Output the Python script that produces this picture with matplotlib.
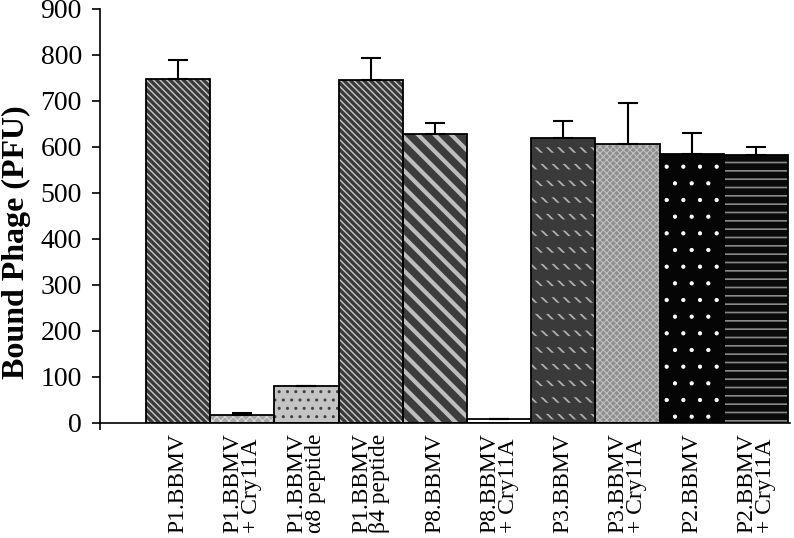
import matplotlib
matplotlib.use("Agg")
import matplotlib.pyplot as plt

# data
labels = ["P1.BBMV", "P1.BBMV\n+ Cry11A", "P1.BBMV\nα8 peptide", "P1.BBMV\nβ4 peptide",
          "P8.BBMV", "P8.BBMV\n+ Cry11A", "P3.BBMV", "P3.BBMV\n+ Cry11A",
          "P2.BBMV", "P2.BBMV\n+ Cry11A"]
values = [748, 17, 80, 746, 628, 8, 620, 607, 585, 583]
errors = [42, 5, 0, 47, 24, 0, 37, 89, 45, 17]

# fill style per bar: face colour, hatch, hatch colour, hatch linewidth
styles = [
    ("#3a3a3a", "\\\\\\\\\\", "#c8c8c8", 1.0),
    ("#a8a8a8", "xxxx", "#d8d8d8", 0.8),
    ("#c4c4c4", "..", "#404040", 1.0),
    ("#3a3a3a", "\\\\\\\\\\", "#c8c8c8", 1.0),
    ("#3c3c3c", "\\\\", "#bdbdbd", 3.0),
    ("#ffffff", "-", "#909090", 1.0),
    ("#3a3a3a", "\\\\\\", "#b0b0b0", 1.3),
    ("#8e8e8e", "xxxxx", "#c0c0c0", 0.8),
    ("#050505", ".", "#ffffff", 0.6),
    ("#0a0a0a", "--", "#8a8a8a", 1.2),
]

plt.rcParams["font.family"] = ["Liberation Serif", "DejaVu Serif"]

fig = plt.figure(figsize=(7.94, 5.38), dpi=100)
ax = fig.add_axes([0.126, 0.2138, 0.869, 0.7695])

x = list(range(len(values)))
for i in x:
    face, hatch, hcol, hlw = styles[i]
    with plt.rc_context({"hatch.linewidth": hlw}):
        ax.bar(i, values[i], width=1.0, color=face, edgecolor=hcol,
               hatch=hatch, linewidth=0, zorder=2)
    if i == 6:
        # break the stripes into rows
        with plt.rc_context({"hatch.linewidth": 8}):
            ax.bar(i, values[i], width=1.0, fill=False, edgecolor="#3a3a3a",
                   hatch="-", linewidth=0, zorder=2.5)
ax.bar(x, values, width=1.0, fill=False, edgecolor="black", linewidth=1.3, zorder=3)

lower = [0] * len(errors)
ax.errorbar(x, values, yerr=[lower, errors], fmt="none", ecolor="black",
            elinewidth=1.5, capsize=7, capthick=1.5, zorder=4)

ax.set_xlim(-1.214, 9.53)
ax.set_ylim(0, 900)
ax.set_yticks(range(0, 901, 100))
ax.tick_params(axis="y", direction="out", length=6, width=1.2, labelsize=20, pad=7)
ax.set_xticks([-1.214])
ax.set_xticklabels([""])
ax.tick_params(axis="x", direction="out", length=5, width=1.2)

for s in ["top", "right"]:
    ax.spines[s].set_visible(False)
ax.spines["left"].set_linewidth(1.2)
ax.spines["bottom"].set_linewidth(1.2)

for i, lab in enumerate(labels):
    ax.text(i, -0.025, lab, transform=ax.get_xaxis_transform(), rotation=90,
            ha="center", va="top", multialignment="left", fontsize=17,
            linespacing=0.85)

ax.set_ylabel("Bound Phage (PFU)", fontsize=23, fontweight="bold", labelpad=6)
ax.yaxis.set_label_coords(-0.1, 0.437)

fig.savefig("out.png", dpi=100)
